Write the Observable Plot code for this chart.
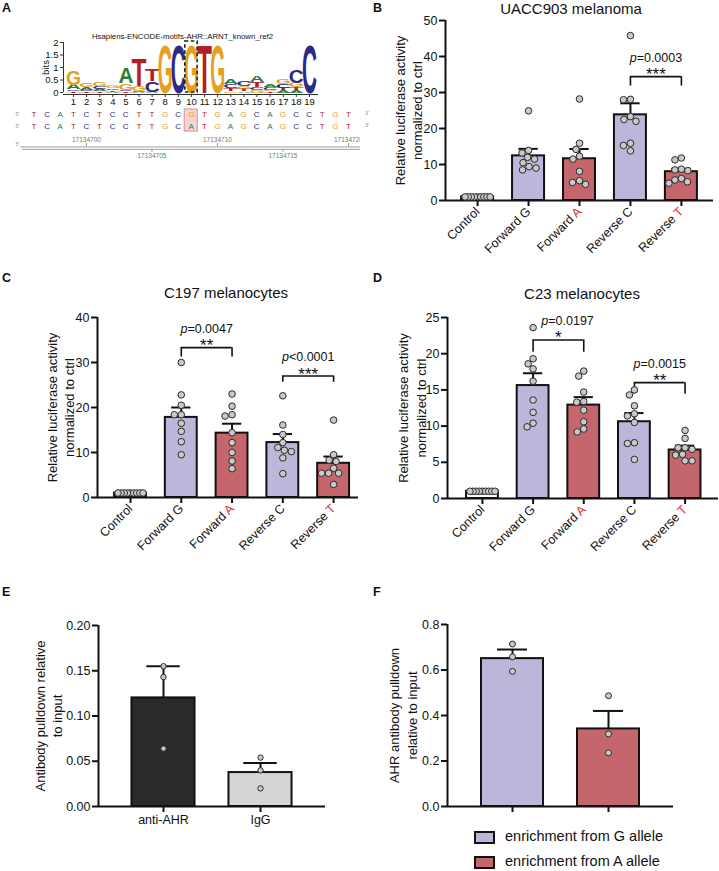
<!DOCTYPE html>
<html><head><meta charset="utf-8">
<script src="https://cdn.jsdelivr.net/npm/d3@7"></script>
<script src="https://cdn.jsdelivr.net/npm/@observablehq/plot@0.6"></script>
<style>
html,body{margin:0;padding:0;background:#fff;}
#page{position:relative;width:719px;height:871px;overflow:hidden;font-family:"Liberation Sans",Arial,sans-serif;color:#111;}
.panel{position:absolute;overflow:visible;}
.panel svg{background:transparent !important;overflow:visible !important;max-width:none !important;}
.lbl{position:absolute;line-height:1;white-space:nowrap;color:#111;}
.sw{position:absolute;box-sizing:border-box;border:2px solid #111;width:21px;height:13px;}
</style></head><body><div id="page"></div>
<script>
// ---------------- DATA ----------------
// Panel A: motif logo (information content, bits) per motif position
const logoPositions = [1,2,3,4,5,6,7,8,9,10,11,12,13,14,15,16,17,18,19];
const logoA = [0.18,0.10,0.09,0.04,0.63,0.02,0.02,0,0,0,0,0,0.22,0.07,0.25,0.12,0.09,0.09,0];
const logoC = [0.07,0.06,0.11,0.07,0.07,0.03,0.42,0,1.98,0,0,0,0.16,0.18,0.12,0.09,0.15,0.52,1.98];
const logoG = [0.58,0.15,0.14,0.10,0.25,0.22,0.02,1.98,0,1.98,0,1.98,0.07,0.10,0.10,0.07,0.18,0.18,0];
const logoT = [0.06,0.05,0.06,0.06,0.05,1.10,0.48,0,0,0,1.98,0,0.12,0.09,0.20,0.05,0.11,0.12,0];
const logoTicks = [0, 0.5, 1, 1.5, 2];
const logoTitle = "Hsapiens-ENCODE-motifs-AHR::ARNT_known_ref2";
const logoHighlight = 10;
const seqStart = 17134696;
const seqRef = "TCATCTCCTTGCGTGAGCAGCCTGT";
const seqAlt = "TCATCTCCTTGCATGAGCAGCCTGT";
const snpCoord = 17134708;
const rulerUp = [17134700, 17134710, 17134720];
const rulerDown = [17134705, 17134715];

// Panels B-D: luciferase
const categories = ["Control", "Forward G", "Forward A", "Reverse C", "Reverse T"];
const uaccPoints = [
  [1,1,1,1,1,1,1,1,1],
  [24.9,13.9,13.2,12.0,11.5,10.5,9.4,9.0,8.5],
  [28.2,15.9,14.2,12.3,11.5,8.1,5.5,4.5,5.0],
  [45.8,28.1,28.0,23.3,22.5,22.0,15.9,15.3,13.8],
  [11.8,11.3,8.7,8.5,8.3,6.1,5.7,5.2,4.8]
];
const uaccMean = [1.0,12.4,11.6,23.8,8.0];
const uaccSem = [0,1.95,2.7,3.2,0.8];
const uaccSig = [{from:3,to:4,y:34.4,legFrom:31.8,legTo:31.8,stars:"***",p:"p=0.0003"}];

const c197Points = [
  [1,1,1,1,1,1,1,1,1],
  [30.0,22.8,20.5,18.4,18.4,16.5,14.7,12.4,9.5],
  [23.0,20.3,18.4,18.1,14.4,12.2,10.0,8.1,6.4],
  [22.6,16.1,14.0,12.2,11.1,10.5,10.2,8.8,5.3],
  [17.2,9.5,8.3,8.0,6.5,5.4,5.4,5.4,2.9]
];
const c197Mean = [1.0,17.8,14.3,12.2,7.6];
const c197Sem = [0,2.2,2.1,1.9,1.5];
const c197Sig = [
  {from:1,to:2,y:33.3,legFrom:31.2,legTo:31.2,stars:"**",p:"p=0.0047"},
  {from:3,to:4,y:27.0,legFrom:25.6,legTo:25.6,stars:"***",p:"p<0.0001"}
];

const c23Points = [
  [1,1,1,1,1,1,1,1,1],
  [23.6,19.3,18.6,17.9,16.2,13.6,11.9,10.4,9.9],
  [17.6,16.9,14.7,13.4,13.3,12.2,10.6,9.6,9.2],
  [15.0,14.3,12.8,11.7,11.4,10.5,7.7,7.6,5.4],
  [9.4,8.3,7.0,7.0,6.8,6.1,6.0,5.2,5.2]
];
const c23Mean = [1.0,15.6,12.9,10.6,6.7];
const c23Sem = [0,1.7,1.1,1.2,0.6];
const c23Sig = [
  {from:1,to:2,y:21.9,legFrom:20.2,legTo:20.2,stars:"*",p:"p=0.0197"},
  {from:3,to:4,y:16.0,legFrom:14.4,legTo:14.4,stars:"**",p:"p=0.0015"}
];

// Panel E: ChIP
const chipCats = ["anti-AHR", "IgG"];
const chipPoints = [[0.155,0.143,0.064],[0.054,0.040,0.020]];
const chipMean = [0.120,0.0375];
const chipSem = [0.035,0.0105];

// Panel F: allele-specific
const alleleCats = ["enrichment from G allele", "enrichment from A allele"];
const allelePoints = [[0.714,0.658,0.594],[0.487,0.319,0.236]];
const alleleMean = [0.650,0.341];
const alleleSem = [0.040,0.079];

// ---------------- STYLE ----------------
const LAV = "#bdb6da", RED = "#c4666b";
const LETTER_COLORS = {A:"#2e7d37", C:"#2c2a88", G:"#e5a01f", T:"#b51e24"};
const FONT = '"Liberation Sans", Arial, sans-serif';
const page = document.getElementById("page");
const baseStyle = {fontFamily: FONT, fontSize: "12.5px", color: "#111", background: "transparent", overflow: "visible"};
const SVGNS = "http://www.w3.org/2000/svg";

function place(node, left, top, width, height, clip) {
  const d = document.createElement("div");
  d.className = "panel";
  d.style.left = left + "px"; d.style.top = top + "px";
  d.style.width = width + "px"; d.style.height = height + "px";
  if (clip) d.style.overflow = "hidden";
  d.appendChild(node);
  page.appendChild(d);
}
function addText(x, baseline, text, size, opts = {}) {
  const d = document.createElement("div");
  d.className = "lbl";
  d.textContent = text;
  d.style.fontSize = size + "px";
  d.style.top = (baseline - 0.8465 * size) + "px";
  d.style.left = x + "px";
  if (opts.anchor === "middle") d.style.transform = "translateX(-50%)";
  if (opts.weight) d.style.fontWeight = opts.weight;
  if (opts.color) d.style.color = opts.color;
  page.appendChild(d);
}

function dodge(yPx, r, maxHalf) {
  const n = yPx.length, placed = [], offs = new Array(n);
  const order = d3.range(n).sort((a, b) => yPx[a] - yPx[b]);
  const minD = 2 * r + 0.3;
  for (const k of order) {
    const y = yPx[k];
    let best = 0;
    for (let t = 0; t < 600; t++) {
      const cand = (t % 2 ? -1 : 1) * Math.ceil(t / 2) * 0.5;
      if (placed.every(p => Math.hypot(p.x - cand, p.y - y) >= minD)) { best = cand; break; }
    }
    offs[k] = best; placed.push({x: best, y});
  }
  const m = d3.max(offs, Math.abs);
  if (m > maxHalf) for (let k = 0; k < n; k++) offs[k] *= maxHalf / m;
  return offs;
}

// ---------------- PANEL A: logo ----------------
function logoPanel() {
  const W = 330, H = 80, mL = 63, mR = 12, mT = 14, mB = 16;
  const vals = {A: logoA, C: logoC, G: logoG, T: logoT};
  const stack = [];
  logoPositions.forEach((p, k) => {
    const items = ["A","C","G","T"].map(L => ({L, h: vals[L][k]})).filter(d => d.h > 0.005).sort((a, b) => a.h - b.h);
    let y0 = 0;
    for (const d of items) { stack.push({p, L: d.L, y0, h: d.h}); y0 += d.h; }
  });
  const xDom = [0.24, 19.69];
  const plot = Plot.plot({
    width: W, height: H, marginLeft: mL, marginRight: mR, marginTop: mT, marginBottom: mB,
    x: {domain: xDom}, y: {domain: [0, 2]}, color: {type: "identity"},
    style: {...baseStyle, fontSize: "9.5px"},
    marks: [
      Plot.text(stack, {x: "p", y: "y0", text: "L", fill: d => LETTER_COLORS[d.L], fontSize: 20, fontWeight: "bold", lineAnchor: "bottom"}),
      Plot.rect([logoHighlight], {x1: d => d - 0.47, x2: d => d + 0.47, y1: 0, y2: 2.04, fill: "none", stroke: "#222", strokeWidth: 1.6, strokeDasharray: "3.5,2.5"}),
      Plot.ruleX([xDom[0]], {stroke: "#333"}),
      Plot.ruleY([0], {stroke: "#333", dy: 2}),
      Plot.axisY({ticks: logoTicks, tickFormat: d => String(d), tickSize: 3, tickPadding: 2, fontSize: 9.5, label: null, stroke: "#333"}),
      Plot.axisX({ticks: logoPositions, tickFormat: d => String(d), tickSize: 3, tickPadding: 1, fontSize: 9.5, label: null, dy: 2, stroke: "#333"}),
      Plot.text(["bits"], {frameAnchor: "left", textAnchor: "middle", rotate: -90, dx: -18, fontSize: 9.5}),
      Plot.text([logoTitle], {frameAnchor: "top", textAnchor: "middle", lineAnchor: "bottom", dy: -4, dx: -8.5, fontSize: 7.8})
    ]
  });
  const ys = plot.scale("y");
  const adv = {A: 0.722, C: 0.722, G: 0.778, T: 0.611};
  const colW = 15;
  const letterEls = Array.from(plot.querySelectorAll("text")).filter(el => /^[ACGT]$/.test(el.textContent));
  letterEls.forEach((el, k) => {
    const d = stack[k];
    if (!d) return;
    const hPx = ys.apply(d.y0) - ys.apply(d.y0 + d.h);
    const sx = colW / (adv[d.L] * 20), sy = hPx / (0.716 * 20);
    el.setAttribute("transform", el.getAttribute("transform") + ` scale(${sx},${sy})`);
  });
  place(plot, 0, 28, W, H);
}

function seqPanel() {
  const W = 360, H = 60, rulerRow = 2.7;
  const rows = seqRef.split("").map((L, k) => ({g: seqStart + k, L, row: 0}))
    .concat(seqAlt.split("").map((L, k) => ({g: seqStart + k, L, row: 1})));
  const plot = Plot.plot({
    width: W, height: H, margin: 0,
    x: {domain: [17134693.44, 17134720.92], axis: null},
    y: {domain: [-0.75, 4.25], reverse: true, axis: null},
    color: {type: "identity"},
    style: baseStyle,
    marks: [
      Plot.rect([snpCoord], {x1: d => d - 0.5, x2: d => d + 0.5, y1: -0.42, y2: 1.42, fill: "#f7d4d4", stroke: "#d98f8f"}),
      Plot.text(rows, {x: "g", y: "row", text: "L", fill: d => LETTER_COLORS[d.L], fontSize: 8}),
      Plot.text(["5'", "5'", "5'"], {frameAnchor: "left", y: [0, 1, rulerRow - 0.25], dx: 15, fontSize: 5.5, fill: "#999"}),
      Plot.ruleY([rulerRow], {insetLeft: 20, stroke: "#b3b3b3", strokeWidth: 1.2}),
      Plot.ruleY([rulerRow], {insetLeft: 22, stroke: "#b3b3b3", strokeWidth: 1.2, dy: 2.5}),
      Plot.ruleX(rulerUp, {y1: rulerRow - 0.28, y2: rulerRow, stroke: "#999"}),
      Plot.ruleX(rulerDown, {y1: rulerRow + 0.2, y2: rulerRow + 0.45, stroke: "#999"}),
      Plot.text(rulerUp, {x: d => d, y: rulerRow - 0.62, text: d => String(d), fontSize: 6.5, fill: "#777"}),
      Plot.text(rulerDown, {x: d => d, y: rulerRow + 0.75, text: d => String(d), fontSize: 6.5, fill: "#777"})
    ]
  });
  place(plot, 0, 105, W, H, true);
}

// ---------------- bar panels ----------------
function barPanel(c) {
  const xs = Plot.scale({x: {domain: c.xDomain, range: [c.mL, c.width - c.mR]}});
  const ys = Plot.scale({y: {domain: c.yDomain, range: [c.height - c.mB, c.mT]}});
  const step = xs.apply(1) - xs.apply(0);
  const bars = c.means.map((m, i) => ({i, mean: m, top: m + c.sems[i]}));
  const errs = bars.filter(d => c.sems[d.i] > 0);
  const pts = [];
  c.points.forEach((vals, i) => {
    const offs = dodge(vals.map(v => ys.apply(v)), c.r, c.maxHalf);
    vals.forEach((v, k) => pts.push({i, v, xo: i + offs[k] / step}));
  });
  const marks = [
    Plot.rectY(bars, {x1: d => d.i - c.barHalf, x2: d => d.i + c.barHalf, y1: 0, y2: "mean", fill: d => c.fills[d.i], stroke: "#111", strokeWidth: 2}),
    Plot.ruleX(errs, {x: "i", y1: "mean", y2: "top", stroke: "#111", strokeWidth: 2}),
    Plot.ruleY(errs, {x1: d => d.i - c.capHalf, x2: d => d.i + c.capHalf, y: "top", stroke: "#111", strokeWidth: 2}),
    Plot.ruleX([c.xDomain[0]], {stroke: "#111", strokeWidth: 2}),
    Plot.ruleY([c.yDomain[0]], {stroke: "#111", strokeWidth: 2}),
    Plot.axisY({ticks: c.yTicks, tickFormat: c.yFormat, tickSize: 6, tickPadding: 2, strokeWidth: 2, fontSize: 12.5, label: null}),
    Plot.axisX({ticks: d3.range(c.cats.length), tickFormat: c.xLabels ? (i => c.cats[i]) : (() => ""), tickRotate: c.rotate, tickSize: 6, tickPadding: 3, strokeWidth: 2, fontSize: 12.5, label: null}),
    Plot.text([c.ylabel], {frameAnchor: "left", textAnchor: "middle", lineAnchor: "middle", rotate: -90, dx: -c.ylabelOff, lineHeight: 1.35, fontSize: 13})
  ];
  if (c.sig) marks.push(
    Plot.ruleY(c.sig, {x1: "from", x2: "to", y: "y", stroke: "#111", strokeWidth: 1.6}),
    Plot.ruleX(c.sig, {x: "from", y1: "legFrom", y2: "y", stroke: "#111", strokeWidth: 1.6}),
    Plot.ruleX(c.sig, {x: "to", y1: "legTo", y2: "y", stroke: "#111", strokeWidth: 1.6}),
    Plot.text(c.sig, {x: d => (d.from + d.to) / 2, y: "y", text: "stars", lineAnchor: "bottom", dy: 3.5, fontSize: 17}),
    Plot.text(c.sig, {x: (d, k) => (d.from + d.to) / 2 + ((c.pDx && c.pDx[k]) || 0), y: "y", text: "p", lineAnchor: "bottom", dy: -15, fontSize: 12.5})
  );
  marks.push(Plot.dot(pts, {x: "xo", y: "v", r: c.r, fill: "#c9c9c9", stroke: "#2a2a2a", strokeWidth: 1}));
  const plot = Plot.plot({
    width: c.width, height: c.height, marginLeft: c.mL, marginRight: c.mR, marginTop: c.mT, marginBottom: c.mB,
    x: {domain: c.xDomain}, y: {domain: c.yDomain}, color: {type: "identity"},
    style: baseStyle, marks
  });
  plot.querySelectorAll("text").forEach(el => {
    if (el.children.length) return;
    const s = el.textContent;
    if (/^p[=<]/.test(s)) {
      el.textContent = "";
      const ts = document.createElementNS(SVGNS, "tspan");
      ts.setAttribute("font-style", "italic"); ts.textContent = "p";
      el.appendChild(ts);
      el.appendChild(document.createTextNode(s.slice(1)));
      return;
    }
    const m = /^(Forward|Reverse) ([AT])$/.exec(s);
    if (m) {
      el.textContent = m[1] + " ";
      const ts = document.createElementNS(SVGNS, "tspan");
      ts.setAttribute("fill", "#e0302c"); ts.textContent = m[2];
      el.appendChild(ts);
    }
  });
  place(plot, c.left, c.top, c.width, c.height);
}

const lucFills = ["#ffffff", LAV, RED, LAV, RED];
const lucLabel = "Relative luciferase activity\nnormalized to ctrl";

logoPanel();
seqPanel();
barPanel({left: 360, top: 0, width: 359, height: 265, mL: 85, mR: 6, mT: 20, mB: 65,
  xDomain: [-0.63, 4.63], yDomain: [0, 50], yTicks: [0,10,20,30,40,50],
  cats: categories, means: uaccMean, sems: uaccSem, points: uaccPoints, fills: lucFills,
  barHalf: 0.314, capHalf: 0.19, r: 3.3, maxHalf: 12.5, rotate: -45, xLabels: true,
  ylabel: lucLabel, ylabelOff: 37.5, sig: uaccSig});
barPanel({left: 0, top: 280, width: 360, height: 280, mL: 97, mR: 2, mT: 37, mB: 63,
  xDomain: [-0.65, 4.49], yDomain: [0, 40], yTicks: [0,10,20,30,40],
  cats: categories, means: c197Mean, sems: c197Sem, points: c197Points, fills: lucFills,
  barHalf: 0.314, capHalf: 0.19, r: 3.3, maxHalf: 12.5, rotate: -45, xLabels: true,
  ylabel: lucLabel, ylabelOff: 37.5, sig: c197Sig});
barPanel({left: 360, top: 280, width: 359, height: 280, mL: 87, mR: 1, mT: 37, mB: 62,
  xDomain: [-0.69, 4.66], yDomain: [0, 25], yTicks: [0,5,10,15,20,25],
  cats: categories, means: c23Mean, sems: c23Sem, points: c23Points, fills: lucFills,
  barHalf: 0.314, capHalf: 0.19, r: 3.3, maxHalf: 12.5, rotate: -45, xLabels: true,
  ylabel: lucLabel, ylabelOff: 36, sig: c23Sig, pDx: [0.18, 0]});
barPanel({left: 0, top: 600, width: 360, height: 271, mL: 98, mR: 35, mT: 25, mB: 65,
  xDomain: [-0.67, 1.67], yDomain: [0, 0.2], yTicks: [0,0.05,0.1,0.15,0.2], yFormat: d3.format(".2f"),
  cats: chipCats, means: chipMean, sems: chipSem, points: chipPoints, fills: ["#2a2a2a", "#d5d5d5"],
  barHalf: 0.325, capHalf: 0.172, r: 2.7, maxHalf: 10, rotate: 0, xLabels: true,
  ylabel: "Antibody pulldown relative\nto input", ylabelOff: 50.5});
barPanel({left: 360, top: 600, width: 359, height: 215, mL: 87, mR: 46, mT: 24, mB: 9,
  xDomain: [-0.677, 1.677], yDomain: [0, 0.8], yTicks: [0,0.2,0.4,0.6,0.8], yFormat: d3.format(".1f"),
  cats: alleleCats, means: alleleMean, sems: alleleSem, points: allelePoints, fills: [LAV, RED],
  barHalf: 0.323, capHalf: 0.156, r: 3, maxHalf: 10, rotate: 0, xLabels: false,
  ylabel: "AHR antibody pulldown\nrelative to input", ylabelOff: 45});

// panel letters and titles
addText(2, 13, "A", 12.5, {weight: "bold"});
addText(373, 13, "B", 12.5, {weight: "bold"});
addText(2, 283, "C", 12.5, {weight: "bold"});
addText(373, 283, "D", 12.5, {weight: "bold"});
addText(2, 597, "E", 12.5, {weight: "bold"});
addText(373, 597, "F", 12.5, {weight: "bold"});
addText(571, 14, "UACC903 melanoma", 15, {anchor: "middle"});
addText(226, 298, "C197 melanocytes", 15, {anchor: "middle"});
addText(582, 299, "C23 melanocytes", 15, {anchor: "middle"});
addText(365, 116, "3'", 5.5, {color: "#999"});
addText(365, 128, "3'", 5.5, {color: "#999"});

// legend for F
[LAV, RED].forEach((col, k) => {
  const s = document.createElement("div");
  s.className = "sw";
  s.style.left = "474px"; s.style.top = (831 + 25 * k) + "px"; s.style.background = col;
  page.appendChild(s);
  addText(505, 841.5 + 25 * k, alleleCats[k], 14.5);
});
</script></body></html>
